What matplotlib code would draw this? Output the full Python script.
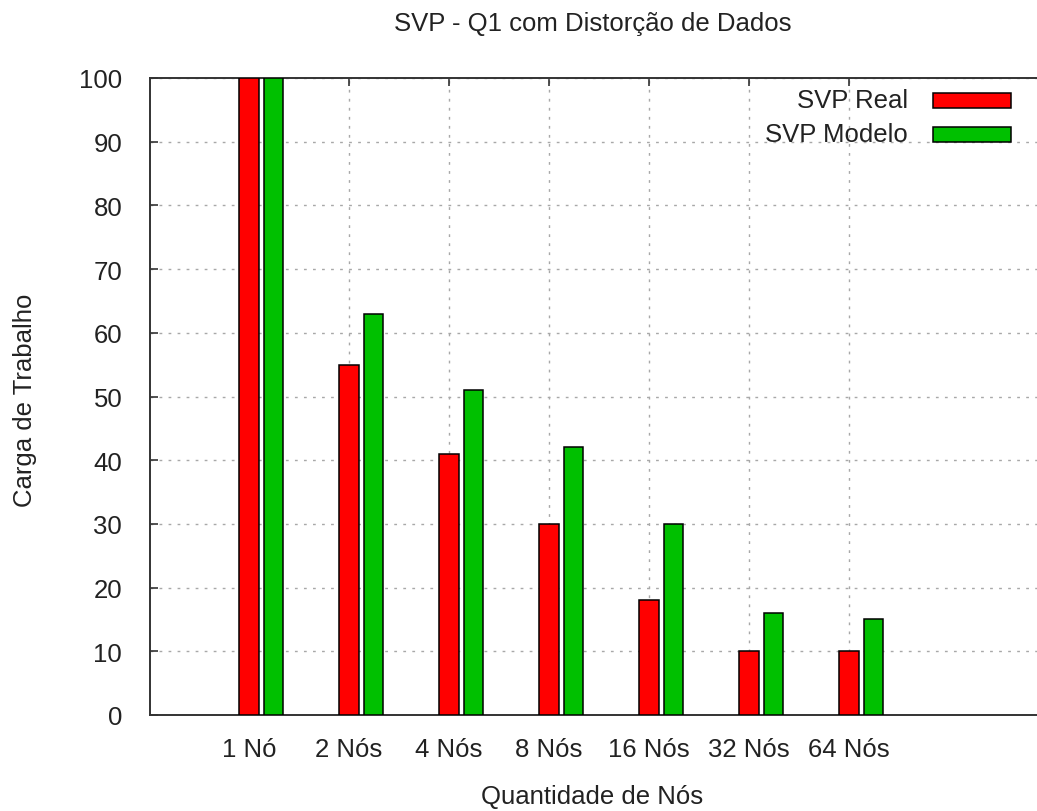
import matplotlib.pyplot as plt
from matplotlib.patches import Rectangle

# dados
categorias = ['1 Nó', '2 Nós', '4 Nós', '8 Nós', '16 Nós', '32 Nós', '64 Nós']
svp_real = [100, 55, 41, 30, 18, 10, 10]
svp_modelo = [100, 63, 51, 42, 30, 16, 15]
yticks = list(range(0, 101, 10))

W, H = 1037, 812
plt.rcParams['font.family'] = ['Liberation Sans', 'DejaVu Sans']
FS = 18.5

fig = plt.figure(figsize=(W / 100, H / 100), dpi=100)
ax = fig.add_axes([150 / W, 1 - 716 / H, (W - 150) / W, (716 - 79) / H])

x = list(range(len(categorias)))
ax.bar([i for i in x], svp_real, width=0.2, color='#ff0000',
       edgecolor='black', linewidth=1.1, zorder=3)
ax.bar([i + 0.245 for i in x], svp_modelo, width=0.195, color='#00c000',
       edgecolor='black', linewidth=1.1, zorder=3)

ax.set_xlim(-0.99, 7.88)
ax.set_ylim(0, 100)
ax.set_xticks(x)
ax.set_xticklabels(categorias, fontsize=FS, color='#222222')
ax.set_yticks(yticks)
ax.set_yticklabels([str(v) for v in yticks], fontsize=FS, color='#222222')

ax.grid(True, color='#a8a8a8', linestyle=(0, (2, 4.5)), linewidth=1.0, zorder=0)
ax.set_axisbelow(True)

ax.tick_params(axis='both', direction='in', length=6, width=1.2, color='#333333')
ax.tick_params(axis='x', top=True, bottom=True, pad=16)
ax.tick_params(axis='y', left=True, right=False, pad=20)
for s in ['left', 'top', 'bottom']:
    ax.spines[s].set_linewidth(1.4)
    ax.spines[s].set_color('#333333')
ax.spines['right'].set_visible(False)

# títulos
fig.text(593 / W, 1 - 24 / H, 'SVP - Q1 com Distorção de Dados', fontsize=FS,
         ha='center', va='center', color='#222222')
fig.text(592 / W, 1 - 797 / H, 'Quantidade de Nós', fontsize=FS,
         ha='center', va='center', color='#222222')
fig.text(25 / W, 1 - 400 / H, 'Carga de Trabalho', fontsize=FS, rotation=90,
         ha='center', va='center', color='#222222')

# legenda no estilo gnuplot: texto alinhado à direita e amostra depois
legenda = [('SVP Real', '#ff0000', 101), ('SVP Modelo', '#00c000', 135)]
for nome, cor, yc in legenda:
    fig.text(908 / W, 1 - yc / H, nome, fontsize=FS, ha='right', va='center',
             color='#222222')
    fig.add_artist(Rectangle((933 / W, 1 - (yc + 7.5) / H), 78 / W, 15 / H,
                             transform=fig.transFigure, facecolor=cor,
                             edgecolor='black', linewidth=1.1, zorder=5))

fig.savefig('out.png', dpi=100)
